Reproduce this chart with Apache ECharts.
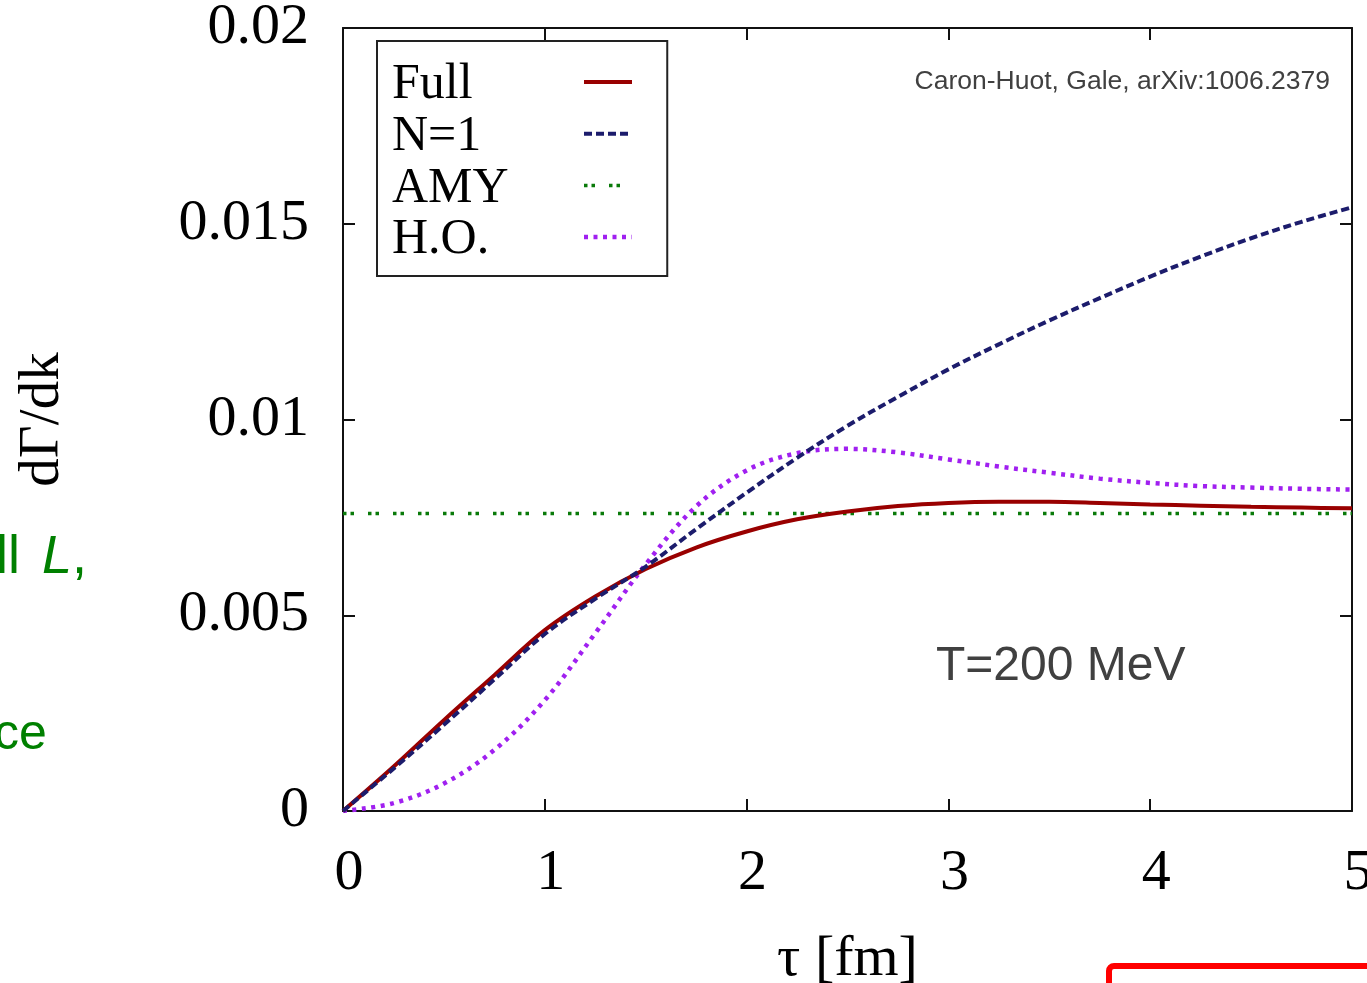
<!DOCTYPE html>
<html>
<head>
<meta charset="utf-8">
<script src="https://cdn.jsdelivr.net/npm/echarts@6/dist/echarts.min.js"></script>
<style>
html,body{margin:0;padding:0;background:#fff;overflow:hidden;}
#main{width:1367px;height:983px;display:block;}
</style>
</head>
<body>
<div id="main"></div>
<script>
// ---- data ----
const tau = [0, 0.25, 0.5, 0.75, 1.0, 1.25, 1.5, 1.75, 2.0, 2.25, 2.5, 2.75, 3.0, 3.25, 3.5, 3.75, 4.0, 4.25, 4.5, 4.75, 5.0];
const fullVals = [0, 0.00113, 0.00232, 0.00347, 0.00462, 0.00548, 0.00618, 0.00673, 0.00714, 0.00745, 0.00765, 0.00779, 0.00787, 0.0079, 0.0079, 0.00787, 0.00783, 0.0078, 0.00777, 0.00775, 0.00773];
const n1Vals = [0, 0.00108, 0.00220, 0.00336, 0.00452, 0.00542, 0.00624, 0.00720, 0.00813, 0.00902, 0.00984, 0.01058, 0.01128, 0.01192, 0.01253, 0.01310, 0.01365, 0.01416, 0.01463, 0.01505, 0.01542];
const hoVals = [0, 0.0002, 0.0007, 0.00156, 0.00283, 0.00454, 0.0063, 0.00778, 0.0087, 0.00914, 0.00925, 0.00916, 0.00898, 0.0088, 0.00864, 0.00849, 0.00838, 0.0083, 0.00826, 0.00823, 0.00821];
const amyTau = [0, 5];
const amyVals = [0.0076, 0.0076];
const seriesNames = ['Full', 'N=1', 'AMY', 'H.O.'];
const xTicks = [0, 1, 2, 3, 4, 5];
const yTicks = [0, 0.005, 0.01, 0.015, 0.02];
const yTickLabels = ['0', '0.005', '0.01', '0.015', '0.02'];

const zip = (xs, ys) => xs.map((x, i) => [x, ys[i]]);
const serif = 'Liberation Serif';
const sans = 'Liberation Sans';

const colors = {full: '#990000', n1: '#1c1c6c', amy: '#0a7a0a', ho: '#a020f0'};
const styles = [
  {color: colors.full, width: 4, type: 'solid'},
  {color: colors.n1, width: 4, type: [8, 4]},
  {color: colors.amy, width: 3.5, type: [3.5, 4, 3.5, 14]},
  {color: colors.ho, width: 4.5, type: [4, 5.5]}
];

const chart = echarts.init(document.getElementById('main'), null, {renderer: 'canvas', width: 1367, height: 983});

const axisLineStyle = {color: '#111', width: 2};
const tickCommon = {show: true, inside: true, length: 12, lineStyle: {color: '#111', width: 2}};

function yLabel(v) {
  const i = yTicks.findIndex(t => Math.abs(t - v) < 1e-9);
  return i >= 0 ? yTickLabels[i] : '';
}

const option = {
  animation: false,
  backgroundColor: '#fff',
  grid: {left: 343, top: 28, width: 1009, height: 783, containLabel: false, outerBoundsMode: 'none'},
  xAxis: [
    {
      type: 'value', min: xTicks[0], max: xTicks[xTicks.length - 1], interval: 1,
      position: 'bottom',
      axisLine: {show: true, onZero: false, lineStyle: axisLineStyle},
      axisTick: tickCommon,
      splitLine: {show: false},
      axisLabel: {fontFamily: serif, fontSize: 58, color: '#000', margin: 34, padding: [0, 0, 0, 12], showMaxLabel: true},
      name: 'τ [fm]', nameLocation: 'middle', nameGap: 120,
      nameTextStyle: {fontFamily: serif, fontSize: 58, color: '#000'}
    },
    {
      type: 'value', min: xTicks[0], max: xTicks[xTicks.length - 1], interval: 1,
      position: 'top',
      axisLine: {show: true, onZero: false, lineStyle: axisLineStyle},
      axisTick: tickCommon,
      splitLine: {show: false},
      axisLabel: {show: false}
    }
  ],
  yAxis: [
    {
      type: 'value', min: yTicks[0], max: yTicks[yTicks.length - 1], interval: 0.005,
      position: 'left',
      axisLine: {show: true, onZero: false, lineStyle: axisLineStyle},
      axisTick: tickCommon,
      splitLine: {show: false},
      axisLabel: {fontFamily: serif, fontSize: 58, color: '#000', margin: 34, formatter: yLabel},
      name: 'dΓ/dk', nameLocation: 'middle', nameGap: 271, nameRotate: 90,
      nameTextStyle: {fontFamily: serif, fontSize: 57, color: '#000'}
    },
    {
      type: 'value', min: yTicks[0], max: yTicks[yTicks.length - 1], interval: 0.005,
      position: 'right',
      axisLine: {show: true, onZero: false, lineStyle: axisLineStyle},
      axisTick: tickCommon,
      splitLine: {show: false},
      axisLabel: {show: false}
    }
  ],
  legend: {
    orient: 'vertical', left: 377, top: 41, align: 'right',
    padding: [13, 33, 11, 15],
    borderColor: '#222', borderWidth: 2, backgroundColor: '#fff',
    itemWidth: 48, itemHeight: 14, itemGap: -4.3,
    itemStyle: {opacity: 0},
    formatter: name => '{a|' + name + '}',
    textStyle: {
      fontFamily: serif, fontSize: 50, color: '#000',
      rich: {a: {fontFamily: serif, fontSize: 50, color: '#000', width: 187, align: 'left', lineHeight: 48, padding: [6, 0, 0, 0]}}
    },
    data: seriesNames.map((n, i) => ({name: n, lineStyle: styles[i], itemStyle: {opacity: 0}}))
  },
  series: [
    {
      name: seriesNames[0], type: 'line', data: zip(tau, fullVals), smooth: 0.35,
      symbol: 'none', lineStyle: styles[0], itemStyle: {color: colors.full}, z: 5
    },
    {
      name: seriesNames[1], type: 'line', data: zip(tau, n1Vals), smooth: 0.35,
      symbol: 'none', lineStyle: styles[1], itemStyle: {color: colors.n1}, z: 6
    },
    {
      name: seriesNames[2], type: 'line', data: zip(amyTau, amyVals),
      symbol: 'none', lineStyle: styles[2], itemStyle: {color: colors.amy}, z: 4
    },
    {
      name: seriesNames[3], type: 'line', data: zip(tau, hoVals), smooth: 0.35,
      symbol: 'none', lineStyle: styles[3], itemStyle: {color: colors.ho}, z: 3
    }
  ],
  graphic: [
    {
      type: 'text', x: 1330, y: 82,
      style: {text: 'Caron-Huot, Gale, arXiv:1006.2379', fontFamily: sans, fontSize: 26.5, fill: '#404040', align: 'right', verticalAlign: 'middle'}
    },
    {
      type: 'text', x: 936, y: 667,
      style: {text: 'T=200 MeV', fontFamily: sans, fontSize: 48, fill: '#404040', align: 'left', verticalAlign: 'middle'}
    },
    {
      type: 'text', x: -4, y: 558,
      style: {
        text: '{n|ll }{i|L}{n|,}', verticalAlign: 'middle', align: 'left',
        rich: {
          n: {fontFamily: sans, fontSize: 54, fill: '#008000'},
          i: {fontFamily: sans, fontSize: 54, fontStyle: 'italic', fill: '#008000', padding: [0, 0, 0, 7]}
        }
      }
    },
    {
      type: 'text', x: -6, y: 735,
      style: {text: 'ce', fontFamily: sans, fontSize: 50, fill: '#008000', align: 'left', verticalAlign: 'middle'}
    },
    {
      type: 'rect', shape: {x: 1109, y: 966, width: 400, height: 100, r: 5},
      style: {fill: 'none', stroke: '#ff0000', lineWidth: 6}
    }
  ]
};
chart.setOption(option);
</script>
</body>
</html>
